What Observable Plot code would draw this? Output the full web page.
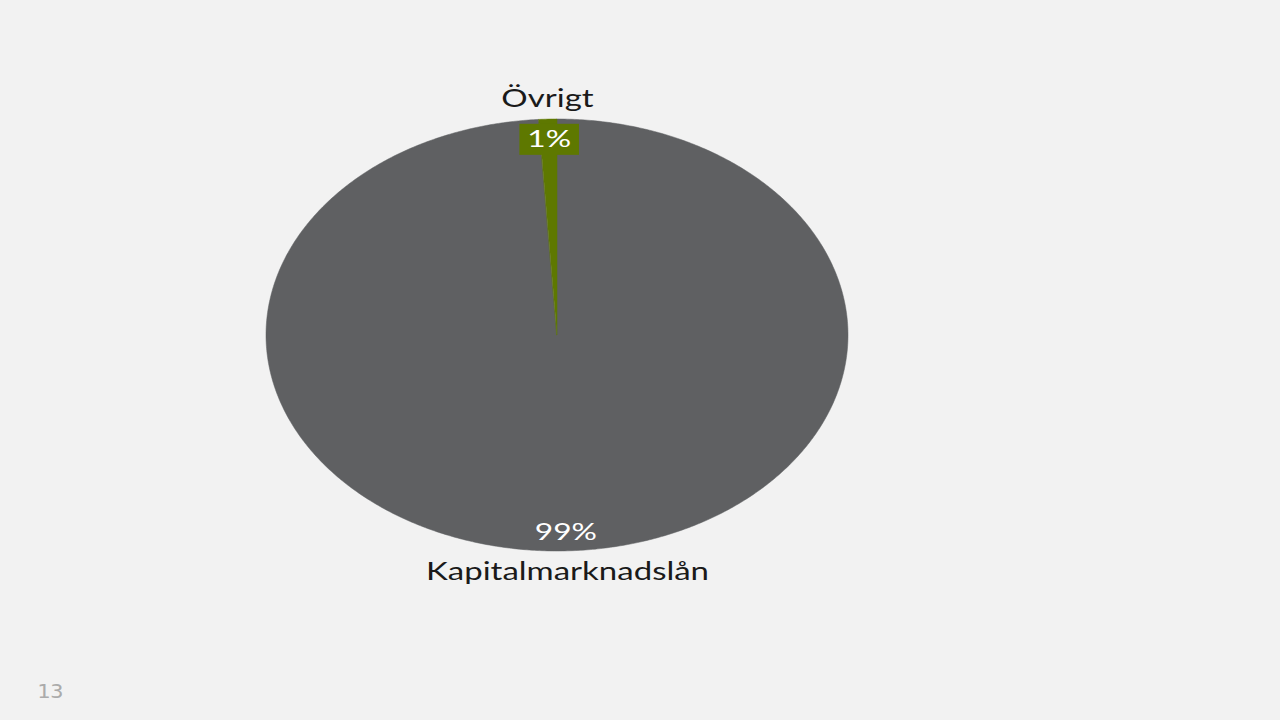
<!DOCTYPE html>
<html>
<head>
<meta charset="utf-8">
<script src="https://cdn.jsdelivr.net/npm/d3@7"></script>
<script src="https://cdn.jsdelivr.net/npm/@observablehq/plot@0.6"></script>
<style>
  html, body { margin: 0; padding: 0; background: #F2F2F2; }
  #wrap { position: relative; width: 1280px; height: 720px; overflow: hidden; }
  #page { position: absolute; left: 37px; top: 679px; font-family: "DejaVu Sans Mono", monospace; font-size: 20px; color: #ABABAB; transform: scaleX(1.1); transform-origin: left top; }
</style>
</head>
<body>
<div id="wrap">
  <div id="chart"></div>
  <div id="page">13</div>
</div>
<script>
const categories = ["Kapitalmarknadslån", "Övrigt"];
const values = [99, 1];
const percentLabels = ["99%", "1%"];
const colors = ["#5F6062", "#5E7800"];

// pie angles (clockwise from 12 o'clock)
const arcs = d3.pie().sort(null).value(d => d)(values);

// wedge outlines: center point + arc samples
const wedgePts = [];
arcs.forEach((a, i) => {
  const n = Math.max(2, Math.ceil((a.endAngle - a.startAngle) / (Math.PI / 360)));
  for (let k = 0; k <= n; k++) {
    const t = a.startAngle + (a.endAngle - a.startAngle) * k / n;
    wedgePts.push({cat: categories[i], x: Math.sin(t), y: Math.cos(t)});
  }
});

const labels = arcs.map((a, i) => {
  const m = (a.startAngle + a.endAngle) / 2;
  return {
    cat: categories[i], pct: percentLabels[i], color: colors[i],
    xi: Math.sin(m) * 0.91, yi: Math.cos(m) * 0.91,
    xo: Math.sin(m) * 1.095, yo: Math.cos(m) * 1.095,
    boxed: i === 1
  };
});

const font = "Lato, 'Open Sans', sans-serif";
const stretch = 1.32;

const chart = Plot.plot({
  width: 1280,
  height: 720,
  margin: 0,
  style: {background: "transparent", fontFamily: font},
  x: {domain: [-1, 1], range: [266, 848], axis: null},
  y: {domain: [-1, 1], range: [551, 119], axis: null},
  color: {domain: categories, range: colors},
  marks: [
    Plot.area(wedgePts, {x1: 0, y1: 0, x2: "x", y2: "y", z: "cat", fill: "cat", stroke: "cat", strokeWidth: 0.5}),
    Plot.text(labels, {x: "xi", y: "yi", text: "pct", fill: "white", fontSize: 24, className: "pct-label"}),
    Plot.text(labels, {x: "xo", y: "yo", text: "cat", fill: "#1a1a1a", fontSize: 25, className: "cat-label"})
  ]
});

document.getElementById("chart").appendChild(chart);

// horizontally stretch label text (the slide is drawn wide)
chart.querySelectorAll(".pct-label text, .cat-label text").forEach(t => {
  const tr = t.getAttribute("transform") || "";
  t.setAttribute("transform", tr + ` scale(${stretch},1)`);
});

// background box behind the boxed percentage label
chart.querySelectorAll(".pct-label text").forEach((t, i) => {
  if (!labels[i].boxed) return;
  const b = t.getBBox();
  const r = document.createElementNS("http://www.w3.org/2000/svg", "rect");
  r.setAttribute("x", b.x - 6);
  r.setAttribute("y", b.y + 1);
  r.setAttribute("width", b.width + 12);
  r.setAttribute("height", b.height + 2);
  r.setAttribute("fill", labels[i].color);
  const tr = t.getAttribute("transform");
  if (tr) r.setAttribute("transform", tr);
  t.parentNode.insertBefore(r, t);
});
</script>
</body>
</html>
